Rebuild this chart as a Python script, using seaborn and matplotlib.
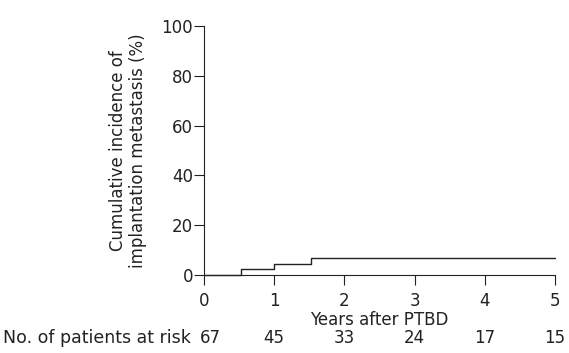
import pandas as pd
import matplotlib.pyplot as plt
import seaborn as sns

years = [0, 0.53, 1.0, 1.52, 5.0]
incidence = [0, 2.4, 4.4, 6.8, 6.8]
risk_years = [0, 1, 2, 3, 4, 5]
at_risk = [67, 45, 33, 24, 17, 15]

sns.set_style("ticks")
plt.rcParams["font.family"] = ["DejaVu Sans"]
ink = "#222222"

data = pd.DataFrame({"years": years, "incidence": incidence})

fig = plt.figure(figsize=(5.69, 3.53), dpi=100)
ax = fig.add_axes([0.3585, 0.221, 0.617, 0.705])
sns.lineplot(data=data, x="years", y="incidence", drawstyle="steps-post",
             color=ink, linewidth=1.0, ax=ax, clip_on=False)

ax.set_xlim(0, 5)
ax.set_ylim(0, 100)
ax.set_xticks(risk_years)
ax.set_yticks([0, 20, 40, 60, 80, 100])
sns.despine(ax=ax)
ax.tick_params(direction="out", length=7, width=0.8, labelsize=12, colors=ink)
ax.tick_params(axis="x", pad=5)
ax.tick_params(axis="y", pad=1)
for s in ax.spines.values():
    s.set_linewidth(0.8)
    s.set_color(ink)

ax.set_xlabel("Years after PTBD", fontsize=12, labelpad=1, color=ink)
ax.set_ylabel("Cumulative incidence of\nimplantation metastasis (%)", fontsize=12,
              linespacing=1.15, labelpad=10, color=ink)

trans = ax.get_xaxis_transform()
row_y = -0.253
ax.text(-0.19, row_y, "No. of patients at risk", transform=trans, ha="right", va="center",
        fontsize=12.5, color=ink)
for x, n in zip(risk_years, at_risk):
    ax.text(x + (0.09 if x == 0 else 0), row_y, str(n), transform=trans, ha="center",
            va="center", fontsize=12, color=ink)

fig.savefig("out.png", dpi=100)
